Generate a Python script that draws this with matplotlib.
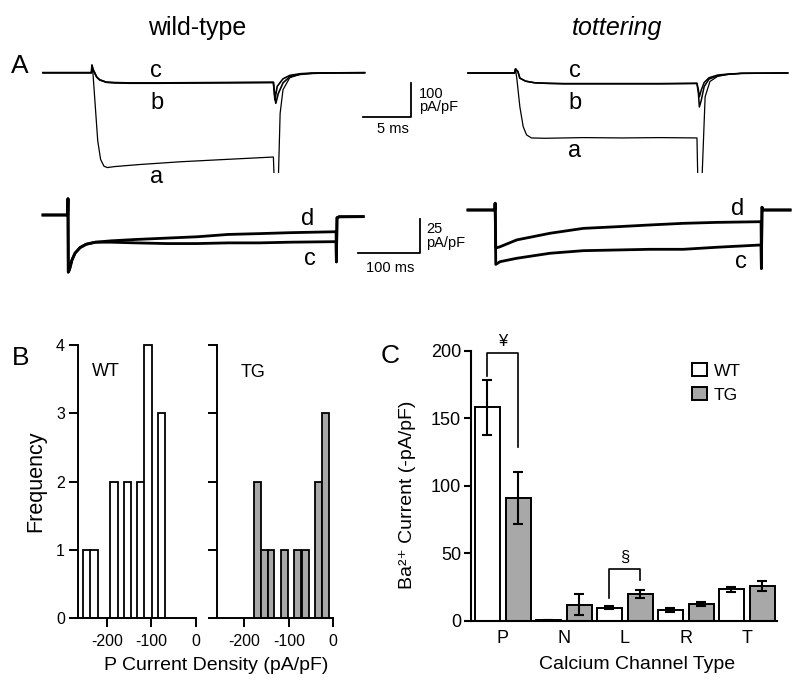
import matplotlib
matplotlib.use("Agg")
import matplotlib.pyplot as plt
from matplotlib.patches import Patch

plt.rcParams['font.family'] = ['Liberation Sans', 'DejaVu Sans']
plt.rcParams['axes.unicode_minus'] = False

W, H = 800, 689

# ---------------- DATA ----------------
# Panel A, top: step currents (time in ms, current in pA/pF)
wt_a_t = [0, 5.05, 5.1, 5.2, 5.4, 5.7, 6.0, 6.35, 6.7, 7.5, 10.1, 14.3, 18.4, 22.6, 24.0, 24.1, 24.25, 24.5, 24.7, 25.0, 25.7, 26.8, 28.9, 33.5]
wt_a_i = [0, 0, 22, 0, -80, -200, -255, -275, -279, -276, -270, -262, -256, -250, -248, -330, -330, -330, -120, -50, -15, -4, -1, 0]
wt_b_t = [0, 5.05, 5.1, 5.2, 5.6, 5.9, 6.6, 7.5, 9.0, 12.0, 18.0, 24.0, 24.1, 24.25, 24.5, 25.0, 25.7, 26.8, 28.0, 30.0, 33.5]
wt_b_i = [0, 0, 22, 10, -13, -21, -28, -30, -31, -31, -30, -29, -60, -90, -62, -30, -12, -5, -2, -0.5, 0]
wt_c_t = [0, 5.05, 5.1, 5.2, 5.6, 5.9, 6.6, 7.5, 9.0, 12.0, 18.0, 24.0, 24.1, 24.15, 24.4, 25.0, 25.7, 26.8, 28.0, 33.5]
wt_c_i = [0, 0, 22, 10, -13, -21, -28, -29, -30, -30, -29, -28, -55, -80, -40, -18, -8, -3, -1, 0]

tg_a_t = [0, 4.85, 4.95, 5.1, 5.4, 5.75, 6.1, 6.6, 8.0, 12.0, 16.0, 20.0, 23.85, 23.95, 24.35, 24.7, 25.2, 26.0, 27.1, 28.5, 33.3]
tg_a_i = [0, 0, 12, -20, -99, -158, -182, -191, -192, -190, -191, -190, -191, -330, -330, -70, -25, -10, -4, -1, 0]
tg_b_t = [0, 4.85, 4.95, 5.2, 5.4, 6.0, 7.0, 8.5, 10.0, 15.0, 20.0, 23.85, 24.0, 24.1, 24.3, 24.6, 25.1, 26.0, 27.1, 28.5, 33.3]
tg_b_i = [0, 0, 12, 4, -15, -24, -29, -31, -32, -32, -32, -31, -60, -100, -80, -40, -18, -8, -4, -1, 0]
tg_c_t = [0, 4.85, 4.95, 5.2, 5.4, 6.0, 7.0, 8.5, 10.0, 15.0, 20.0, 23.85, 24.0, 24.1, 24.3, 24.6, 25.1, 26.0, 27.1, 28.5, 33.3]
tg_c_i = [0, 0, 12, 4, -15, -24, -29, -30, -31, -31, -31, -30, -50, -70, -50, -28, -14, -6, -3, -1, 0]

# Panel A, bottom: long pulses (time in ms, current in pA/pF)
wt_d_t = [0, 40, 40.5, 41, 43, 47, 52, 60, 70, 85, 110, 150, 200, 250, 300, 350, 400, 475, 475.5, 476.5, 480, 519]
wt_d_i = [0, 0, 12, -42, -40, -33, -28, -24, -21.5, -20, -19, -18, -17, -16, -14.3, -13.7, -13, -12.3, -34.5, -2, -1.3, -1.2]
wt_c2_t = [0, 40, 40.5, 41, 43, 47, 52, 60, 70, 85, 110, 150, 200, 250, 300, 350, 400, 475, 475.5, 476.5, 480, 519]
wt_c2_i = [0, 0, 12, -42, -40, -33, -28, -24, -21.5, -20, -20, -20.5, -21, -21, -20.5, -20.5, -20, -19.6, -34.5, -2, -1.3, -1.2]

tg_d_t = [0, 43.5, 44, 45, 52, 79, 133, 187, 241, 295, 349, 403, 475, 475.5, 476.5, 478, 522]
tg_d_i = [0, 0, 5, -28, -27, -22, -17.1, -13.5, -12.3, -11, -9.8, -9.1, -8.6, -43, 2, 0, 0]
tg_c2_t = [0, 43.5, 44, 45, 52, 79, 133, 187, 241, 295, 349, 403, 475, 475.5, 476.5, 478, 522]
tg_c2_i = [0, 0, 5, -40, -38, -35.5, -31.8, -29.9, -29.4, -28.9, -28.9, -27.4, -25.7, -43, 2, 0, 0]

# Scale bars (time, current)
scale_top = (5, 100)      # 5 ms, 100 pA/pF
scale_bottom = (100, 25)  # 100 ms, 25 pA/pF

# Panel B: histograms of P current density
wt_hist_centers = [-244.5, -228.5, -183.5, -153.5, -123.5, -107.5, -77]
wt_hist_counts = [1, 1, 2, 2, 2, 4, 3]
tg_hist_centers = [-170, -155, -140, -110, -80, -63, -33.5, -18]
tg_hist_counts = [2, 1, 1, 1, 1, 1, 2, 3]
wt_bin_width = 17
tg_bin_width = 15.5

# Panel C: mean Ba2+ current by channel type
channel_types = ['P', 'N', 'L', 'R', 'T']
wt_mean = [158, 0.5, 9.6, 7.9, 23.2]
wt_sem = [20.5, 0, 1.0, 1.8, 1.8]
tg_mean = [91, 12, 19.8, 12.1, 25.7]
tg_sem = [19, 7.5, 3.0, 1.5, 4.0]
sig_brackets = [  # (category index, left bottom, top, right bottom, symbol)
    (0, 181, 198, 129, '\u00a5'),
    (2, 17, 38, 30, '\u00a7'),
]

# ---------------- FIGURE ----------------
fig = plt.figure(figsize=(W / 100, H / 100), dpi=100)


def box(l, t, r, b):
    return [l / W, 1 - b / H, (r - l) / W, (b - t) / H]


def T(x, y, s, **kw):
    kw.setdefault('ha', 'center')
    kw.setdefault('va', 'baseline')
    fig.text(x / W, 1 - y / H, s, **kw)


def trace_axes(l, t, r, b, x0, y0, sx, sy):
    ax = fig.add_axes(box(l, t, r, b))
    ax.set_xlim((l - x0) / sx, (r - x0) / sx)
    ax.set_ylim((y0 - b) / sy, (y0 - t) / sy)
    ax.axis('off')
    return ax


# Titles
T(197, 35, 'wild-type', fontsize=18)
T(617.5, 35, 'tottering', fontsize=18, style='italic')
T(11, 73.3, 'A', fontsize=19, ha='left')
T(11.7, 365, 'B', fontsize=19, ha='left')
T(381, 363, 'C', fontsize=19, ha='left')

# Top-left traces
ax1 = trace_axes(30, 45, 470, 173, 43, 72.7, 9.6, 0.34)
ax1.plot(wt_a_t, wt_a_i, color='k', lw=0.9)
ax1.plot(wt_b_t, wt_b_i, color='k', lw=1.2)
ax1.plot(wt_c_t, wt_c_i, color='k', lw=1.2)
sbx = (362.7 - 43) / 9.6
sby = (72.7 - 117.3) / 0.34
ax1.plot([sbx, sbx + scale_top[0], sbx + scale_top[0]], [sby, sby, sby + scale_top[1]],
         color='k', lw=1.3, clip_on=False)
T(156.3, 77.3, 'c', fontsize=17)
T(157.5, 109, 'b', fontsize=17)
T(156.7, 182.7, 'a', fontsize=17)
T(419, 98, '100', fontsize=10.5, ha='left')
T(419, 111, 'pA/pF', fontsize=10.5, ha='left')
T(392.5, 133, '5 ms', fontsize=10.5)

# Top-right traces
ax2 = trace_axes(460, 45, 798, 173, 468, 73, 9.6, 0.34)
ax2.plot(tg_a_t, tg_a_i, color='k', lw=0.9)
ax2.plot(tg_b_t, tg_b_i, color='k', lw=1.1)
ax2.plot(tg_c_t, tg_c_i, color='k', lw=1.1)
T(575, 77.3, 'c', fontsize=17)
T(575, 109, 'b', fontsize=17)
T(575, 156.7, 'a', fontsize=17)

# Bottom-left traces
ax3 = trace_axes(30, 185, 470, 290, 43, 215, 0.617, 1.36)
ax3.plot(wt_d_t, wt_d_i, color='k', lw=2.0)
ax3.plot(wt_c2_t, wt_c2_i, color='k', lw=2.0)
sbx2 = (358.3 - 43) / 0.617
sby2 = (215 - 253.3) / 1.36
ax3.plot([sbx2, sbx2 + scale_bottom[0], sbx2 + scale_bottom[0]],
         [sby2, sby2, sby2 + scale_bottom[1]], color='k', lw=1.3, clip_on=False)
T(308, 225, 'd', fontsize=17)
T(310, 265, 'c', fontsize=17)
T(426, 233, '25', fontsize=10.5, ha='left')
T(426, 246.5, 'pA/pF', fontsize=10.5, ha='left')
T(390, 272, '100 ms', fontsize=10.5)

# Bottom-right traces
ax4 = trace_axes(460, 185, 798, 290, 468, 210, 0.617, 1.36)
ax4.plot(tg_d_t, tg_d_i, color='k', lw=2.0)
ax4.plot(tg_c2_t, tg_c2_i, color='k', lw=2.0)
T(738, 215, 'd', fontsize=17)
T(741, 268.3, 'c', fontsize=17)

# ---------------- Panel B ----------------
def style_hist(ax):
    for s in ['top', 'right']:
        ax.spines[s].set_visible(False)
    for s in ['left', 'bottom']:
        ax.spines[s].set_linewidth(1.4)
    ax.tick_params(direction='out', length=6.5, width=1.4, labelsize=11.5, pad=3)
    ax.tick_params(axis='x', pad=5)
    ax.set_ylim(0, 4)
    ax.set_yticks([0, 1, 2, 3, 4])
    ax.set_xticks([-200, -100, 0])
    ax.set_xticklabels(['-200', '-100', '0'])


axb1 = fig.add_axes(box(78.3, 345, 196, 618.3))
axb1.bar(wt_hist_centers, wt_hist_counts, width=wt_bin_width, color='white',
         edgecolor='black', linewidth=1.3, clip_on=False)
axb1.set_xlim(-263.6, 0)
style_hist(axb1)
axb1.set_ylabel('Frequency', fontsize=15.5)
axb1.yaxis.set_label_coords(-0.359, 0.502)
axb1.yaxis.label.set_verticalalignment('center')
axb1.text(-202.5, 3.61, 'WT', fontsize=13, ha='center', va='center')

axb2 = fig.add_axes(box(216.7, 345, 333.3, 618.3))
axb2.bar(tg_hist_centers, tg_hist_counts, width=tg_bin_width, color='#a8a8a8',
         edgecolor='black', linewidth=1.3, clip_on=False)
axb2.set_xlim(-262, 0)
style_hist(axb2)
axb2.set_yticklabels([])
axb2.text(-181, 3.6, 'TG', fontsize=13, ha='center', va='center')

T(216.5, 670, 'P Current Density (pA/pF)', fontsize=14)

# ---------------- Panel C ----------------
axc = fig.add_axes(box(470.7, 350.7, 776.7, 620.7))
x = list(range(len(channel_types)))
off, bw = 0.254, 0.41
xw = [i - off for i in x]
xt = [i + off for i in x]
axc.bar(xw, wt_mean, width=bw, color='white', edgecolor='black', linewidth=1.4, label='WT', zorder=2)
axc.bar(xt, tg_mean, width=bw, color='#a8a8a8', edgecolor='black', linewidth=1.4, label='TG', zorder=2)
axc.errorbar(xw, wt_mean, yerr=wt_sem, fmt='none', ecolor='black', elinewidth=1.5,
             capsize=3.3, capthick=1.5, zorder=3)
axc.errorbar(xt, tg_mean, yerr=tg_sem, fmt='none', ecolor='black', elinewidth=1.5,
             capsize=3.3, capthick=1.5, zorder=3)
for (ci, yl, ytop, yr, sym) in sig_brackets:
    axc.plot([ci - off, ci - off, ci + off, ci + off], [yl, ytop, ytop, yr],
             color='black', lw=1.2, clip_on=False)
    axc.text(ci, ytop + 3, sym, fontsize=12, ha='center', va='bottom')

axc.set_xlim(-0.525, 4.49)
axc.set_ylim(0, 200)
axc.set_yticks([0, 50, 100, 150, 200])
axc.set_xticks(x)
axc.set_xticklabels(channel_types)
for s in ['top', 'right']:
    axc.spines[s].set_visible(False)
for s in ['left', 'bottom']:
    axc.spines[s].set_linewidth(1.5)
axc.tick_params(axis='y', direction='out', length=5, width=1.5, labelsize=13, pad=2)
axc.tick_params(axis='x', length=0, labelsize=13, pad=7)
axc.set_ylabel('Ba\u00b2\u207a Current (-pA/pF)', fontsize=14)
axc.yaxis.set_label_coords(-0.205, 0.4656)
axc.yaxis.label.set_verticalalignment('center')
axc.set_xlabel('Calcium Channel Type', fontsize=14)
axc.xaxis.set_label_coords(0.543, -0.164)
axc.xaxis.label.set_verticalalignment('center')

handles = [Patch(facecolor='white', edgecolor='black', linewidth=1.4, label='WT'),
           Patch(facecolor='#a8a8a8', edgecolor='black', linewidth=1.4, label='TG')]
axc.legend(handles=handles, loc='upper left', bbox_to_anchor=(0.722, 0.955), frameon=False,
           fontsize=12.5, borderpad=0, borderaxespad=0, handlelength=0.86, handleheight=0.8,
           handletextpad=0.4, labelspacing=0.5)

fig.savefig('out.png', dpi=100)
